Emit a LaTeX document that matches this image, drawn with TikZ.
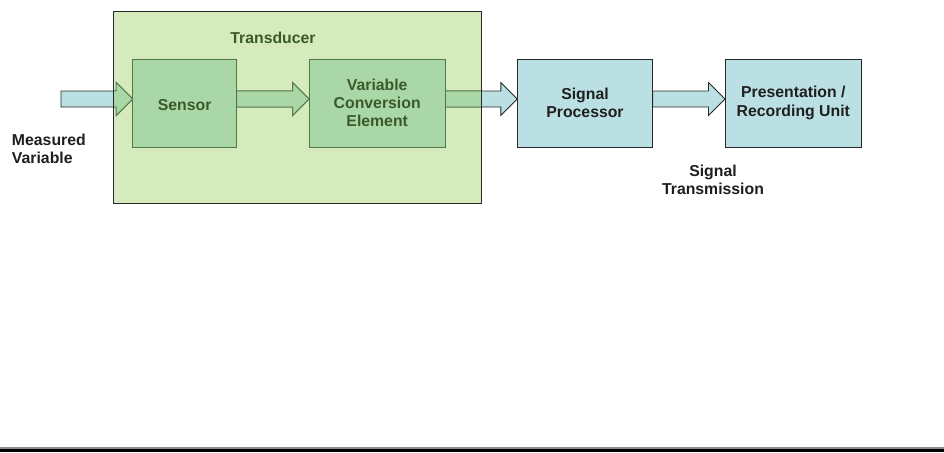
\documentclass[tikz,border=0pt]{standalone}
\usepackage{fontspec}
\setmainfont{Liberation Sans}
\usetikzlibrary{calc}

\pgfdeclarelayer{enclosure}
\pgfdeclarelayer{arrows}
\pgfsetlayers{enclosure,arrows,main}

\definecolor{transfill}{RGB}{213,235,189}
\definecolor{greenbox}{RGB}{169,215,168}
\definecolor{greenline}{RGB}{80,122,64}
\definecolor{greentext}{RGB}{58,90,40}
\definecolor{bluebox}{RGB}{187,224,227}
\definecolor{darkline}{RGB}{40,40,40}

\tikzset{
  blk/.style={draw=darkline, line width=0.9pt, inner sep=0pt, outer sep=0pt,
    minimum height=88pt, align=center, font=\bfseries\fontsize{15.8}{18.3}\selectfont},
  greenblk/.style={blk, fill=greenbox, draw=greenline, text=greentext},
  blueblk/.style={blk, fill=bluebox, text=black!88},
  lbl/.style={inner sep=0pt, outer sep=0pt, font=\bfseries\fontsize{15.8}{18.3}\selectfont},
  fatblue/.style={fill=bluebox, draw=darkline, line width=0.9pt, line join=miter},
  fatgreen/.style={fill=greenbox, draw=greenline, line width=0.9pt, line join=miter},
}

% thick block arrow from a start point to a tip point (both on one level)
\newcommand\fatarrow[3]{%
  \draw[#1] ($(#2)+(0,-8)$) -- ($(#3)+(-16.5,-8)$) -- ($(#3)+(-16.5,-16.5)$)
    -- (#3) -- ($(#3)+(-16.5,16.5)$) -- ($(#3)+(-16.5,8)$) -- ($(#2)+(0,8)$) -- cycle;}

\begin{document}
\begin{tikzpicture}[x=1pt, y=-1pt]
  \useasboundingbox (0,0) rectangle (944,452);

  % transducer enclosure
  \coordinate (tnw) at (113,11);
  \coordinate (tse) at (481,203);
  \begin{pgfonlayer}{enclosure}
    \fill[white] (0,0) rectangle (944,452);
    \fill[transfill] (tnw) rectangle (tse);
  \end{pgfonlayer}
  \draw[darkline, line width=0.9pt] (tnw) rectangle (tse);

  % blocks
  \node[greenblk, minimum width=104pt] (sensor) at (184.7,103)
    {\raisebox{-2pt}[\height][0pt]{Sensor}};
  \node[greenblk, minimum width=136.3pt] (vce) at (377.2,103)
    {\fontsize{15.8}{19.5}\selectfont Variable\\Conversion\\Element};
  \node[blueblk, minimum width=135.4pt] (proc) at (585,103) {Signal\\Processor};
  \node[blueblk, minimum width=136.7pt] (pres) at (793.3,103) {Presentation /\\Recording Unit};

  % signal level and free input end
  \coordinate (lvl) at (0,99);
  \coordinate (input) at (61,99);

  % block arrows, below the blocks
  \begin{pgfonlayer}{arrows}
    \fatarrow{fatblue}{input}{sensor.west |- lvl}
    \fatarrow{fatblue}{sensor.east |- lvl}{vce.west |- lvl}
    \fatarrow{fatblue}{vce.east |- lvl}{proc.west |- lvl}
    \fatarrow{fatblue}{proc.east |- lvl}{pres.west |- lvl}
    % arrow parts lying inside the transducer
    \begin{scope}
      \clip (tnw) rectangle (tse);
      \fatarrow{fatgreen}{input}{sensor.west |- lvl}
      \fatarrow{fatgreen}{sensor.east |- lvl}{vce.west |- lvl}
      \fatarrow{fatgreen}{vce.east |- lvl}{proc.west |- lvl}
    \end{scope}
  \end{pgfonlayer}

  % labels
  \node[lbl, text=greentext, anchor=base] (title) at (273,43.7) {Transducer};
  \node[lbl, text=black!88, anchor=north west, align=left] (meas) at (12,133.6)
    {Measured\\Variable};
  \node[lbl, text=black!88, anchor=north, align=center] (trans) at (713,164.6)
    {Signal\\Transmission};

  % bottom rule
  \fill[black!45] (0,447) rectangle (944,448.5);
  \fill[black] (0,448.5) rectangle (944,452);
\end{tikzpicture}
\end{document}
